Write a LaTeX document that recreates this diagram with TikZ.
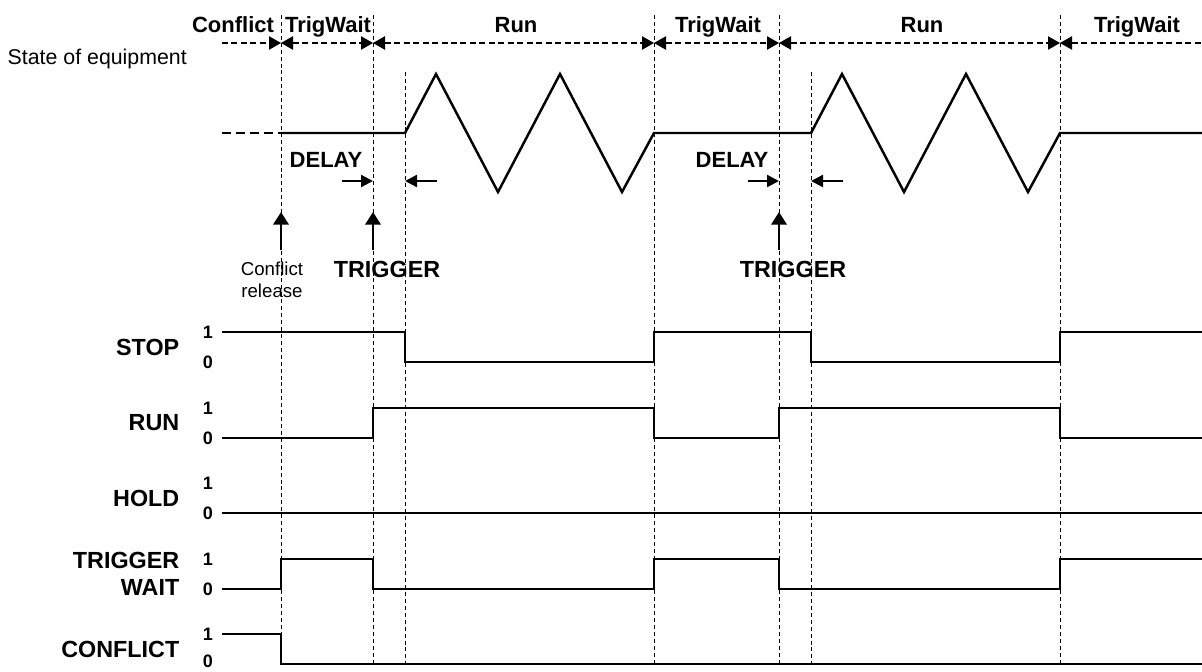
\documentclass[tikz,border=0pt]{standalone}
\usepackage{fontspec}
\setmainfont{Liberation Sans}
\usetikzlibrary{arrows.meta,positioning,calc}

\tikzset{
  sig/.style={line width=1.85pt, line join=miter},
  guide/.style={line width=0.7pt, dash pattern=on 3pt off 2.2pt},
  hdr/.style={line width=0.9pt, dash pattern=on 4.5pt off 2.6pt,
              >={Triangle[length=9pt,width=10pt]}},
  hdrtxt/.style={anchor=base, font=\fontsize{16.5}{16.5}\selectfont\bfseries},
  sigtxt/.style={anchor=east, align=right,
                 font=\fontsize{17.5}{20}\selectfont\bfseries},
  lvl/.style={font=\fontsize{13.5}{13.5}\selectfont\bfseries},
  delayarr/.style={line width=1.6pt, -{Triangle[length=9pt,width=9pt]}},
  uparr/.style={line width=2.1pt, -{Triangle[length=9.5pt,width=11.5pt]}}
}

\begin{document}
\begin{tikzpicture}[x=0.75pt, y=-0.75pt]
  \useasboundingbox (0,0) rectangle (1202,671);

  %% time marks
  \foreach \nm/\xx in {cr/281,tg/373,rs/405,re/654,tgb/779,rsb/811,reb/1060}
    \coordinate (\nm) at (\xx,0);

  %% vertical guides
  \foreach \nm in {cr,tg,re,tgb,reb}
    \draw[guide] ($(\nm)+(0,15)$) -- ($(\nm)+(0,664)$);
  \foreach \nm in {rs,rsb}
    \draw[guide] ($(\nm)+(0,72)$) -- ($(\nm)+(0,664)$);

  %% state bar on top
  \coordinate (hl) at (222,43);
  \coordinate (hr) at (1202,43);
  \draw[hdr, ->] (hl) -- ($(cr)+(0,43)$);
  \foreach \p/\q in {cr/tg, tg/re, re/tgb, tgb/reb}
    \draw[hdr, <->] ($(\p)+(0,43)$) -- ($(\q)+(0,43)$);
  \draw[hdr, <-] ($(reb)+(0,43)$) -- (hr);

  \node[hdrtxt] (s1) at (233,32) {Conflict};
  \node[hdrtxt] (s2) at (328,32) {TrigWait};
  \node[hdrtxt] (s3) at (516,32) {Run};
  \node[hdrtxt] (s4) at (718,32) {TrigWait};
  \node[hdrtxt] (s5) at (922,32) {Run};
  \node[hdrtxt] (s6) at (1137,32) {TrigWait};

  \node[anchor=base west, font=\fontsize{16}{16}\selectfont]
    (eq) at (3,64) {State of equipment};

  %% equipment motion
  \draw[sig, dash pattern=on 6.75pt off 3.75pt] (222,133) -- (281,133);
  \draw[sig] (281,133) -- (405,133) -- (436,74) -- (498,192) -- (560,74)
    -- (622,192) -- (654,133) -- (811,133) -- (842,74) -- (904,192)
    -- (966,74) -- (1028,192) -- (1060,133) -- (1202,133);

  %% delay marks
  \foreach \t/\r/\dx in {tg/rs/326, tgb/rsb/732}{
    \node[anchor=base, font=\fontsize{16.5}{16.5}\selectfont\bfseries]
      at (\dx,167) {DELAY};
    \draw[delayarr] ($(\t)+(-31,181)$) -- ($(\t)+(0,181)$);
    \draw[delayarr] ($(\r)+(32,181)$) -- ($(\r)+(0,181)$);
  }

  %% events
  \draw[uparr] ($(cr)+(0,250)$) -- ($(cr)+(0,212)$);
  \draw[uparr] ($(tg)+(0,250)$) -- ($(tg)+(0,212)$);
  \draw[uparr] ($(tgb)+(0,250)$) -- ($(tgb)+(0,212)$);
  \node[anchor=base, align=center, font=\fontsize{14}{15.8}\selectfont]
    (rel) at (272,297) {Conflict\\release};
  \node[anchor=base, font=\fontsize{17.5}{17.5}\selectfont\bfseries]
    (trg) at (387,277) {TRIGGER};
  \node[anchor=base, font=\fontsize{17.5}{17.5}\selectfont\bfseries]
    (trgb) at (793,277) {TRIGGER};

  %% signal names and levels
  \foreach \nm/\hi/\lo in {STOP/332/362, RUN/408/438, HOLD/483/513,
                           {TRIGGER\\WAIT}/559/589, CONFLICT/634/661}{
    \node[sigtxt] at (184,\hi+15) {\nm};
    \node[lvl] at (208,\hi) {1};
    \node[lvl] at (208,\lo) {0};
  }

  %% signals
  \draw[sig] (222,332) -- (405,332) -- (405,362) -- (654,362) -- (654,332)
    -- (811,332) -- (811,362) -- (1060,362) -- (1060,332) -- (1202,332);
  \draw[sig] (222,438) -- (373,438) -- (373,408) -- (654,408) -- (654,438)
    -- (779,438) -- (779,408) -- (1060,408) -- (1060,438) -- (1202,438);
  \draw[sig] (222,513) -- (1202,513);
  \draw[sig] (222,589) -- (281,589) -- (281,559) -- (373,559) -- (373,589)
    -- (654,589) -- (654,559) -- (779,559) -- (779,589) -- (1060,589)
    -- (1060,559) -- (1202,559);
  \draw[sig] (222,634) -- (281,634) -- (281,664) -- (1202,664);
\end{tikzpicture}
\end{document}
